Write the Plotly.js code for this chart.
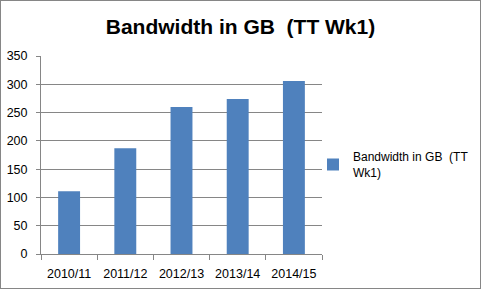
<!DOCTYPE html>
<html>
<head>
<meta charset="utf-8">
<script src="https://cdn.plot.ly/plotly-3.0.1.min.js"></script>
<style>
html,body{margin:0;padding:0;background:#fff;}
#frame{position:absolute;left:0;top:0;width:481px;height:289px;box-sizing:border-box;border:1px solid #868686;}
#chart{position:absolute;left:0;top:0;width:481px;height:289px;}
</style>
</head>
<body>
<div id="chart"></div>
<div id="frame"></div>
<script>
const categories = ["2010/11", "2011/12", "2012/13", "2013/14", "2014/15"];
const bandwidth = [111, 187, 260, 274, 306];
const seriesName = "Bandwidth in GB  (TT<br>Wk1)";
const titleText = "Bandwidth in GB  (TT Wk1)";
const yTicks = [0, 50, 100, 150, 200, 250, 300, 350];

const font = "Liberation Sans, Arial, sans-serif";
const trace = {
  type: "bar",
  x: categories,
  y: bandwidth,
  name: seriesName,
  marker: {color: "#4F81BD"},
  showlegend: true
};
const layout = {
  width: 481, height: 289,
  margin: {l: 41, r: 159, t: 56, b: 35, pad: 0, autoexpand: false},
  paper_bgcolor: "#fff", plot_bgcolor: "#fff",
  bargap: 0.61,
  title: {text: "<b>" + titleText + "</b>", font: {family: font, size: 21, color: "#000"},
          x: 0.5, xref: "container", xanchor: "center", y: 1 - 26.5/289, yref: "container", yanchor: "middle"},
  xaxis: {
    type: "category", showline: true, linecolor: "#868686", linewidth: 1,
    ticks: "outside", tickson: "boundaries", ticklen: 5, tickcolor: "#868686",
    showgrid: false, zeroline: false, tickangle: 0, automargin: false,
    tickfont: {family: font, size: 12.5, color: "#000"}, ticklabelstandoff: 8
  },
  yaxis: {
    range: [0, 350], tickvals: yTicks, showline: true, linecolor: "#868686", linewidth: 1,
    ticks: "outside", ticklen: 4, tickcolor: "#868686", automargin: false,
    showgrid: true, gridcolor: "#868686", gridwidth: 1, zeroline: false,
    tickfont: {family: font, size: 12.5, color: "#000"}, ticklabelstandoff: 6
  },
  showlegend: true,
  legend: {x: 313/481, xref: "container", xanchor: "left", y: 1 - 165/289, yref: "container", yanchor: "middle", itemwidth: 30,
           font: {family: font, size: 12, color: "#000"}, bgcolor: "rgba(0,0,0,0)"}
};
Plotly.newPlot("chart", [trace], layout, {displayModeBar: false, staticPlot: true});
</script>
</body>
</html>
